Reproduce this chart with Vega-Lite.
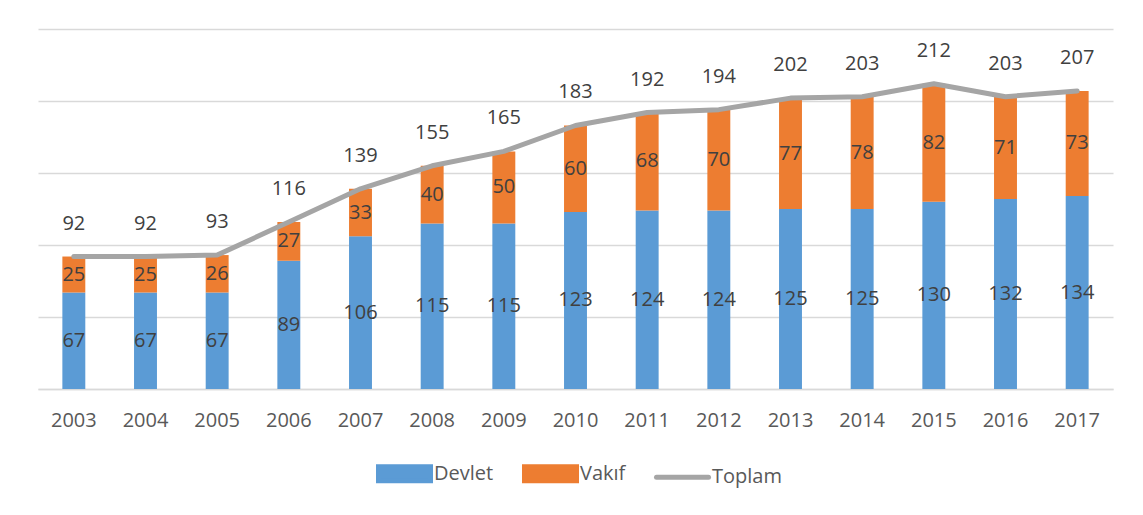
{
  "$schema": "https://vega.github.io/schema/vega-lite/v6.json",
  "width": 1075,
  "height": 360,
  "autosize": "none",
  "padding": {"left": 38, "top": 29, "right": 30, "bottom": 126},
  "background": "white",
  "config": {
    "view": {"stroke": null},
    "font": "Open Sans",
    "text": {"font": "Open Sans"}
  },
  "data": {
    "values": [
      {"year": "2003", "Devlet": 67, "Vakıf": 25, "Toplam": 92},
      {"year": "2004", "Devlet": 67, "Vakıf": 25, "Toplam": 92},
      {"year": "2005", "Devlet": 67, "Vakıf": 26, "Toplam": 93},
      {"year": "2006", "Devlet": 89, "Vakıf": 27, "Toplam": 116},
      {"year": "2007", "Devlet": 106, "Vakıf": 33, "Toplam": 139},
      {"year": "2008", "Devlet": 115, "Vakıf": 40, "Toplam": 155},
      {"year": "2009", "Devlet": 115, "Vakıf": 50, "Toplam": 165},
      {"year": "2010", "Devlet": 123, "Vakıf": 60, "Toplam": 183},
      {"year": "2011", "Devlet": 124, "Vakıf": 68, "Toplam": 192},
      {"year": "2012", "Devlet": 124, "Vakıf": 70, "Toplam": 194},
      {"year": "2013", "Devlet": 125, "Vakıf": 77, "Toplam": 202},
      {"year": "2014", "Devlet": 125, "Vakıf": 78, "Toplam": 203},
      {"year": "2015", "Devlet": 130, "Vakıf": 82, "Toplam": 212},
      {"year": "2016", "Devlet": 132, "Vakıf": 71, "Toplam": 203},
      {"year": "2017", "Devlet": 134, "Vakıf": 73, "Toplam": 207}
    ]
  },
  "encoding": {
    "x": {
      "field": "year",
      "type": "nominal",
      "scale": {"paddingInner": 0.68, "paddingOuter": 0.34},
      "axis": {
        "title": null,
        "labelAngle": 0,
        "ticks": false,
        "domain": true,
        "domainColor": "#D9D9D9",
        "domainWidth": 1.5,
        "labelFont": "Open Sans",
        "labelFontSize": 20,
        "labelColor": "#595959",
        "labelBaseline": "middle",
        "labelPadding": 31
      }
    }
  },
  "layer": [
    {
      "transform": [{"fold": ["Devlet", "Vakıf"], "as": ["seri", "deger"]}],
      "mark": {"type": "bar"},
      "encoding": {
        "y": {
          "field": "deger",
          "type": "quantitative",
          "stack": "zero",
          "scale": {"domain": [0, 250], "nice": false},
          "axis": {
            "title": null,
            "values": [0, 50, 100, 150, 200, 250],
            "labels": false,
            "ticks": false,
            "domain": false,
            "grid": true,
            "gridColor": "#D9D9D9",
            "gridWidth": 1.5
          }
        },
        "color": {
          "field": "seri",
          "type": "nominal",
          "scale": {
            "domain": ["Devlet", "Vakıf", "Toplam"],
            "range": ["#5B9BD5", "#ED7D31", "#A5A5A5"]
          },
          "legend": {
            "title": null,
            "orient": "none",
            "direction": "horizontal",
            "legendX": 338,
            "legendY": 416,
            "symbolSize": 2704,
            "labelFont": "Open Sans",
            "labelFontSize": 20,
            "labelColor": "#595959",
            "labelOffset": 1,
            "columnPadding": 20,
            "symbolStrokeWidth": 5,
            "symbolOpacity": 1,
            "encode": {
              "symbols": {
                "update": {
                  "shape": {"signal": "datum.value === 'Toplam' ? 'M-1,0L1,0' : 'M-1,-0.27L1,-0.27L1,0.27L-1,0.27Z'"},
                  "fill": {"signal": "datum.value === 'Devlet' ? '#5B9BD5' : datum.value === 'Toplam' ? 'transparent' : '#ED7D31'"},
                  "stroke": {"signal": "datum.value === 'Toplam' ? '#A5A5A5' : 'transparent'"},
                  "strokeWidth": {"value": 5},
                  "strokeCap": {"value": "round"},
                  "opacity": {"value": 1}
                }
              }
            }
          }
        },
        "order": {"field": "seri", "sort": "ascending"}
      }
    },
    {
      "transform": [
        {"fold": ["Devlet", "Vakıf"], "as": ["seri", "deger"]},
        {"stack": "deger", "groupby": ["year"], "sort": [{"field": "seri", "order": "ascending"}], "as": ["v0", "v1"]},
        {"fold": ["v0", "v1"], "as": ["edge", "pos"]},
        {"aggregate": [{"op": "mean", "field": "pos", "as": "mid"}], "groupby": ["year", "seri", "deger"]}
      ],
      "mark": {"type": "text", "fontSize": 20, "color": "#404040", "baseline": "middle", "font": "Open Sans"},
      "encoding": {
        "y": {"field": "mid", "type": "quantitative"},
        "text": {"field": "deger", "type": "quantitative"}
      }
    },
    {
      "mark": {"type": "line", "strokeWidth": 5, "strokeCap": "round", "strokeJoin": "round"},
      "encoding": {
        "y": {"field": "Toplam", "type": "quantitative"},
        "color": {"datum": "Toplam"}
      }
    },
    {
      "mark": {"type": "text", "fontSize": 20, "color": "#404040", "baseline": "middle", "dy": -33, "font": "Open Sans"},
      "encoding": {
        "y": {"field": "Toplam", "type": "quantitative"},
        "text": {"field": "Toplam", "type": "quantitative"}
      }
    }
  ]
}
